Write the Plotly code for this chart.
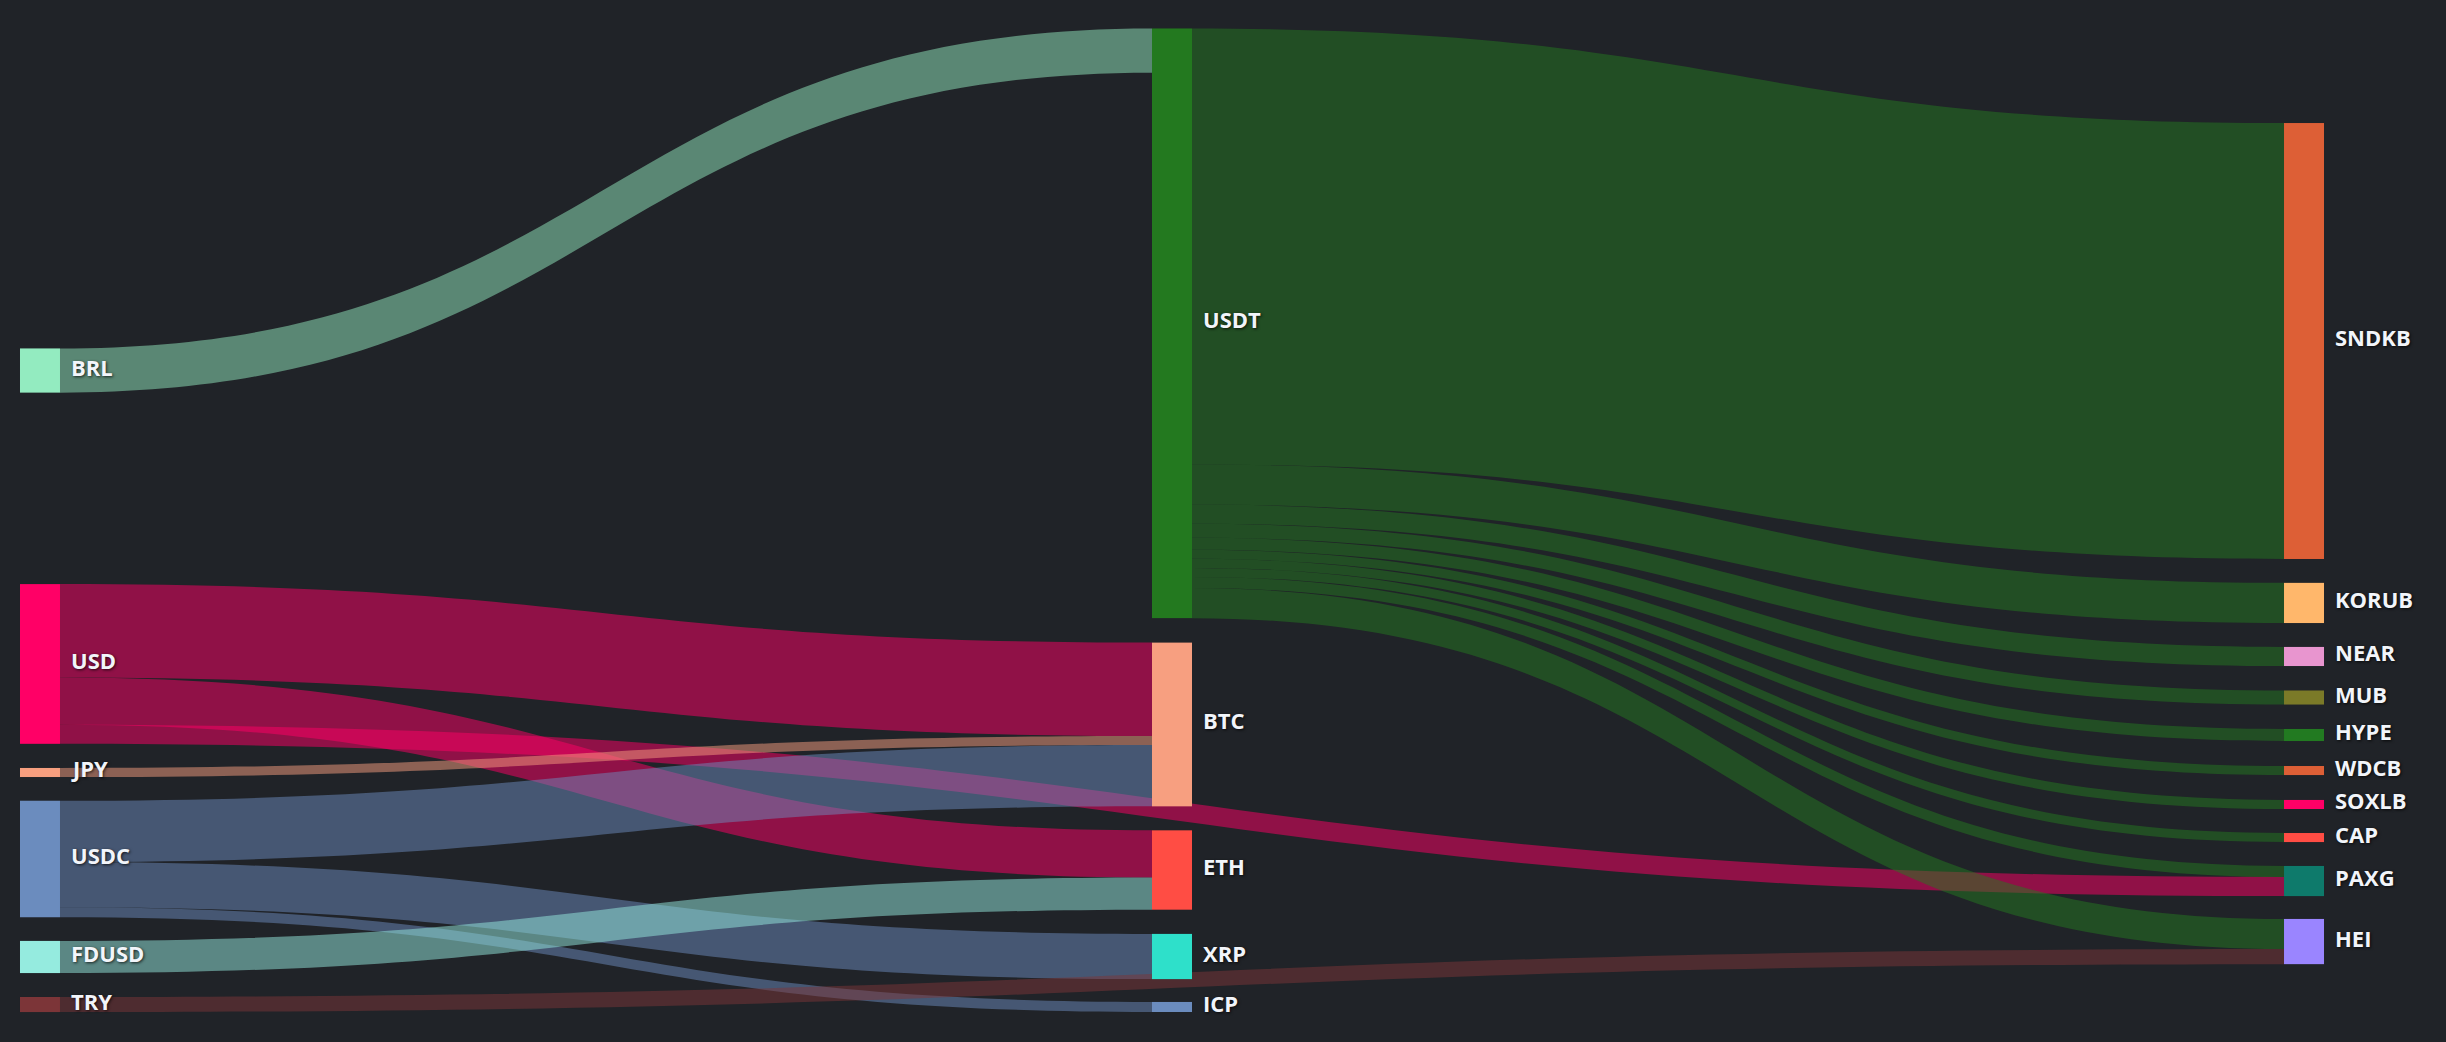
import plotly.graph_objects as go

# ---- data ----
node_labels = ["BRL", "USD", "JPY", "USDC", "FDUSD", "TRY",
               "USDT", "BTC", "ETH", "XRP", "ICP",
               "SNDKB", "KORUB", "NEAR", "MUB", "HYPE", "WDCB", "SOXLB", "CAP", "PAXG", "HEI"]

node_colors = ["#93EBC0", "#FF0066", "#F79F7F", "#6B8CBE", "#95EBDF", "#7C3538",
               "#23791F", "#F79F80", "#FF4D44", "#2EE0CA", "#6B8CBE",
               "#DD5F36", "#FFB76B", "#E895CF", "#7B7A28", "#227A21", "#DD5F36",
               "#FF0066", "#FF4D44", "#0E7A6B", "#9A85FF"]

link_source = ["BRL", "USD", "USD", "USD", "JPY", "USDC", "USDC", "USDC", "FDUSD", "TRY",
               "USDT", "USDT", "USDT", "USDT", "USDT", "USDT", "USDT", "USDT", "USDT", "USDT"]
link_target = ["USDT", "BTC", "ETH", "PAXG", "BTC", "BTC", "XRP", "ICP", "ETH", "HEI",
               "SNDKB", "KORUB", "NEAR", "MUB", "HYPE", "WDCB", "SOXLB", "CAP", "PAXG", "HEI"]
link_value = [44, 93, 47, 19, 9, 61, 45, 10, 32, 15,
              434, 40, 19, 14, 12, 9, 9, 9, 11, 30]

# ---- layout (node placement, normalised) ----
col_x = {0: 0.01635, 1: 0.47915, 2: 0.94195}
node_col = [0, 0, 0, 0, 0, 0, 1, 1, 1, 1, 1, 2, 2, 2, 2, 2, 2, 2, 2, 2, 2]
node_y = [0.3481, 0.6463, 0.7566, 0.8445, 0.9441, 0.9924,
          0.3001, 0.7078, 0.8557, 0.9436, 0.9949,
          0.3181, 0.5843, 0.6387, 0.6804, 0.7185, 0.7546, 0.7891, 0.8227, 0.8669, 0.9284]
node_x = [col_x[c] for c in node_col]

BG = "#202328"
TEXT = "#F2F5FA"
THICK = 40
LABEL_GAP = 9


def rgba(hex_color, a):
    h = hex_color.lstrip("#")
    r, g, b = int(h[0:2], 16), int(h[2:4], 16), int(h[4:6], 16)
    return f"rgba({r},{g},{b},{a})"


idx = {name: i for i, name in enumerate(node_labels)}
src = [idx[s] for s in link_source]
tgt = [idx[t] for t in link_target]
link_colors = [rgba(node_colors[s], 0.5) for s in src]

fig = go.Figure(go.Sankey(
    arrangement="fixed",
    valueformat=".0f",
    node=dict(
        label=[""] * len(node_labels),
        customdata=node_labels,
        hovertemplate="%{customdata}: %{value}<extra></extra>",
        color=node_colors,
        x=node_x,
        y=node_y,
        pad=24,
        thickness=THICK,
        line=dict(width=0),
        align="left",
    ),
    link=dict(source=src, target=tgt, value=link_value, color=link_colors,
              customdata=[f"{s} → {t}" for s, t in zip(link_source, link_target)],
              hovertemplate="%{customdata}: %{value}<extra></extra>"),
))

# node labels, placed to the right of every node
for name, x, y in zip(node_labels, node_x, node_y):
    fig.add_annotation(
        text=name, xref="paper", yref="paper", x=x, y=1 - y,
        xanchor="left", yanchor="middle", xshift=THICK / 2 + LABEL_GAP, yshift=4,
        showarrow=False,
        font=dict(family="Open Sans", size=22, color=TEXT, weight="bold",
                  shadow="1px 1px 3px rgba(0,0,0,0.75)"),
    )

fig.update_layout(
    width=2446, height=1042,
    margin=dict(l=0, r=0, t=28, b=30),
    paper_bgcolor=BG, plot_bgcolor=BG,
    font=dict(family="Open Sans", color=TEXT),
)

fig.write_html("out.html", config={"displayModeBar": False},
               post_script="document.body.style.margin='0';")
